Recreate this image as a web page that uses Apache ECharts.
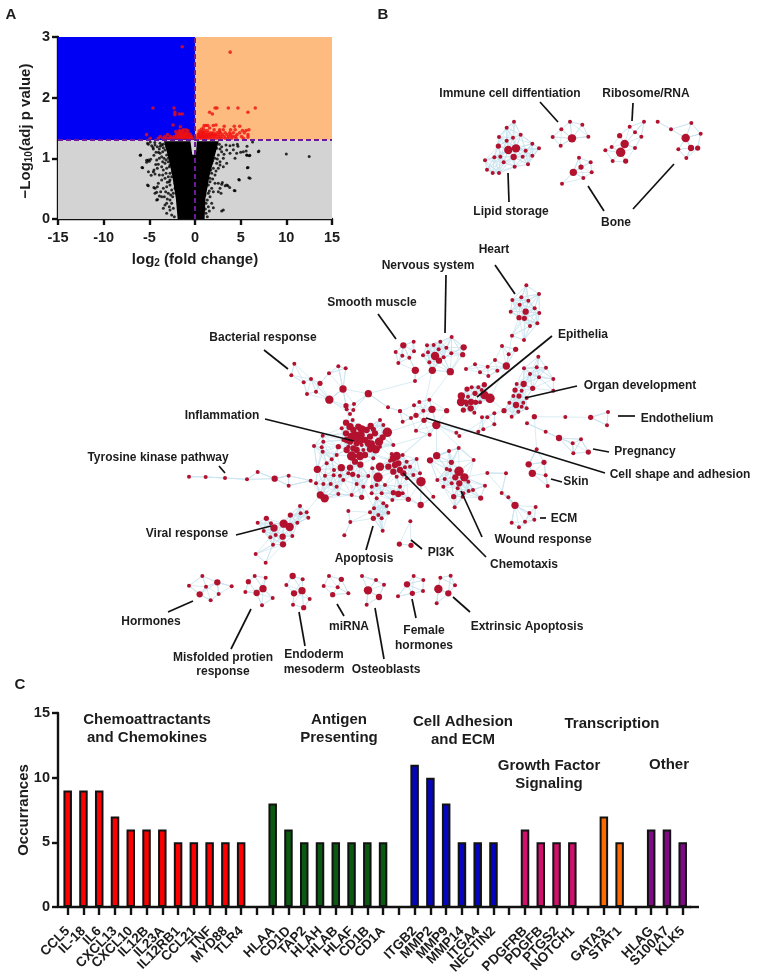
<!DOCTYPE html>
<html><head><meta charset="utf-8">
<style>html,body{margin:0;padding:0;background:#fff}#c{width:759px;height:977px}</style>
<script src="https://cdn.jsdelivr.net/npm/echarts@6/dist/echarts.min.js"></script></head>
<body><div id="c"></div>
<script>
// ---------- Panel A: volcano ----------
const redPoints=[[-1.4,2.84],[3.85,2.75],[-4.6,1.83],[-2.3,1.83],[2.2,1.83],[2.4,1.83],[3.65,1.83],[4.7,1.83],[6.6,1.83],[5.8,1.76],[1.6,1.76],[1.9,1.73],[-2.2,1.76],[-2.2,1.72],[-1.7,1.73],[-1.4,1.73],[-2.4,1.55],[-1.6,1.52],[1.0,1.54],[1.2,1.54],[1.4,1.54],[2.0,1.54],[2.3,1.55],[3.2,1.53],[4.3,1.53],[4.9,1.53],[0.7,1.48],[0.9,1.5],[1.6,1.5],[2.7,1.47],[2.1,1.47],[3.1,1.47],[3.9,1.47],[4.4,1.47],[5.2,1.46],[5.6,1.46],[5.9,1.47],[-1.0,1.47],[-1.3,1.47],[-1.7,1.46],[-2.1,1.44],[-0.8,1.46],
[-1.8,1.42],[-1.5,1.42],[-1.2,1.42],[-1.0,1.42],[-0.7,1.42],[0.5,1.42],[0.8,1.42],[1.1,1.42],[1.4,1.42],[1.7,1.42],[2.0,1.42],[2.4,1.42],[2.8,1.42],[3.3,1.42],[3.8,1.42],[4.2,1.42],[4.9,1.42],[5.4,1.42],
[-5.3,1.39],[-3.0,1.39],[-2.0,1.39],[-1.7,1.39],[-1.4,1.39],[-1.1,1.39],[-0.8,1.39],[-0.5,1.39],[0.4,1.39],[0.6,1.39],[0.9,1.39],[1.3,1.39],[1.6,1.39],[1.9,1.39],[2.2,1.39],[2.6,1.39],[3.0,1.39],[3.5,1.39],[3.9,1.39],[4.6,1.39],[5.8,1.39],
[-3.8,1.36],[-3.3,1.36],[-2.7,1.36],[-2.3,1.36],[-2.0,1.36],[-1.6,1.36],[-1.3,1.36],[-1.0,1.36],[-0.6,1.36],[-0.4,1.36],[0.3,1.36],[0.5,1.36],[0.8,1.36],[1.0,1.36],[1.2,1.36],[1.5,1.36],[1.8,1.36],[2.1,1.36],[2.5,1.36],[2.8,1.36],[3.2,1.36],[3.7,1.36],[4.1,1.36],[4.4,1.36],[5.1,1.36],[5.8,1.35],
[-4.9,1.33],[-4.0,1.33],[-3.5,1.33],[-3.1,1.33],[-2.8,1.33],[-2.5,1.33],[-2.2,1.33],[-1.9,1.33],[-1.5,1.33],[-1.2,1.33],[-0.9,1.33],[-0.6,1.33],[-0.3,1.33],[0.3,1.33],[0.6,1.33],[0.9,1.33],[1.1,1.33],[1.4,1.33],[1.7,1.33],[2.0,1.33],[2.3,1.33],[2.6,1.33],[2.9,1.33],[3.3,1.33],[3.6,1.33],[4.0,1.33],[4.5,1.33],[5.3,1.33],
[-1.65,1.44],[-1.35,1.45],[-1.15,1.37],[-0.85,1.35],[-1.55,1.4],[-1.25,1.38],[-0.95,1.4],[-1.75,1.35],[-0.5,1.34],[-1.45,1.35],[0.45,1.45],[0.75,1.44],[1.05,1.46],[1.35,1.46],[0.55,1.37],[0.65,1.34],[0.85,1.37],[1.15,1.38],[1.25,1.35],[1.55,1.38],[0.35,1.4],[0.95,1.43],[1.85,1.4],[2.25,1.38],[2.65,1.44]];
const denseCore=[[-1.9,0],[1.05,0],[1.15,0.34],[1.6,0.72],[2.1,1.0],[2.6,1.28],[0.2,1.28],[0.1,1.06],[-0.3,1.06],[-0.5,1.28],[-3.4,1.28],[-2.9,1.0],[-2.5,0.72],[-2.1,0.34]];
const blackPoints=[[10,1.07],[12.5,1.03],[7,1.12],[5.6,1.12],[6,1.05],[5.7,1.05],[5,1.1],[4.2,1.14],[4.7,1.2],[5.7,1.2],[6.3,1.27],[5.8,0.85],[4.8,0.65],[5.9,0.68],[4.3,0.47],[3.1,0.15],[3.3,0.55],[3.6,0.55],[3.8,0.52],[3.0,0.6],[-6,1.05],[-5.8,0.85],[-5.3,0.97],[-5.0,0.95],[-5.1,0.78],[-4.8,0.72],[-5.2,0.56],[-4.5,1.05],[-4.6,1.18],[-4,1.1],[-3.8,1.2],[-4.3,0.9],[-4.5,0.52],[-4.2,0.44],[-4.1,0.32],[-3.9,0.38],[-5.2,1.25],[-4.9,1.27],[-4.4,1.26]];
// further black points, read in a 3x crop of the plot (crop column, crop row)
const blackCropLeft=[[85,58],[95,62],[105,60],[112,65],[100,72],[118,72],[125,60],[130,68],[108,82],[120,85],[128,80],[135,75],[140,90],[125,95],[132,100],[85,105],[92,103],[80,112],[62,90],[68,128],[100,140],[105,147],[102,135],[115,118],[125,125],[135,115],[145,110],[130,135],[140,130],[148,125],[150,145],[145,155],[135,160],[150,165],[125,165],[115,175],[85,182],[105,190],[112,185],[122,200],[130,190],[140,185],[150,180],[155,195],[145,205],[133,215],[110,225],[105,205],[150,225],[140,235],[130,250],[148,245],[155,235],[150,255],[140,265],[160,250],[155,270],[163,275],[158,215],[160,205],[148,170],[155,155],[158,140],[150,120],[145,100],[140,65],[120,55],[160,120],[155,100],[165,175],[165,190],[130,58],[138,145],[128,150],[142,172],[137,200],[125,215],[142,222],[135,240],[152,210],[118,150],[112,130],[110,105],[118,100],[138,105],[128,110]];
const blackCropRight=[[275,60],[285,55],[298,58],[305,65],[318,60],[330,62],[340,60],[352,58],[370,80],[380,90],[388,92],[415,80],[345,100],[350,85],[330,85],[320,75],[305,80],[295,90],[285,100],[310,100],[300,110],[290,115],[320,115],[310,125],[295,130],[280,130],[275,145],[285,150],[270,160],[382,128],[390,160],[358,165],[345,197],[320,180],[305,178],[295,175],[285,175],[300,190],[303,205],[295,200],[275,190],[280,200],[265,205],[270,215],[262,225],[275,235],[265,245],[280,248],[305,258],[268,258],[258,265],[262,275],[270,170],[265,180],[275,115],[280,85],[290,70],[272,75],[268,95],[265,120],[262,140],[260,160],[258,185],[255,210],[312,88],[300,72],[282,72],[292,102],[278,108],[288,138],[300,120],[272,135],[278,162],[268,198],[258,235],[256,252]];
const volcanoXTicks=[-15,-10,-5,0,5,10,15];
const pThreshold=1.3, fcThreshold=0;

// ---------- Panel C: bars ----------
const geneCategories=['CCL5','IL-18','IL6','CXCL13','CXCL10','IL12B','IL23A','IL12RB1','CCL21','TNF','MYD88','TLR4',' ','HLAA','CD1D','TAP2','HLAH','HLAB','HLAF','CD1B','CD1A','  ','ITGB2','MMP2','MMP9','MMP14','ITGA4','NECTIN2','   ','PDGFRB','PDGFB','PTGS2','NOTCH1','    ','GATA3','STAT1','     ','HLAG','S100A7','KLK5'];
const occurrences=[9,9,9,7,6,6,6,5,5,5,5,5,null,8,6,5,5,5,5,5,5,null,11,10,8,5,5,5,null,6,5,5,5,null,7,5,null,6,6,5];
const groupColors=['#ff0000','#0b5a12','#0505c0','#d0106c','#ff6a00','#800a85'];
const groupOfBar=[0,0,0,0,0,0,0,0,0,0,0,0,0,1,1,1,1,1,1,1,1,1,2,2,2,2,2,2,2,3,3,3,3,3,4,4,4,5,5,5];

const lipid=[[432,365],[410,383],[387,411],[410,422],[429,413],[452,404],[385,438,2.5],[415,450,4],[438,445,4],[467,452],[487,431],[507,445],[487,467],[458,470],[431,471,3],[391,470],[373,472],[345,481],[401,487],[434,500],[474,493],[351,509],[368,519],[387,519]];
const immuneDiff=[[600,365],[637,374],[574,388],[548,411],[606,415,4],[655,410],[572,437]];
const boneA=[[627,473],[662,487],[633,501,2.5],[610,517,3.5],[665,517],[640,534],[576,551]];
const ribosome=[[822,365],[779,380],[795,397],[814,410],[749,407,2.5],[764,432,4],[725,441],[706,451],[752,457,4.5],[795,444],[728,483],[767,483,2.5]];
const boneB=[[964,369],[992,401],[947,414,4],[925,448],[963,444,3],[983,444,2.5],[949,474],[863,365],[903,388]];
const heart=[[439,46],[477,72],[424,82],[445,92],[397,90],[419,104],[464,115],[437,125,3],[392,125],[478,129],[417,143,2.5],[433,145,2.5],[472,160],[450,168],[396,197],[432,210]];
const upperMid=[[366,228],[407,238,2.5],[386,253],[345,270],[379,288,3.5],[285,283],[323,290],[300,307],[352,302],[258,297],[325,318]];
const nervous=[[215,201],[181,215],[161,225],[141,226],[176,238],[199,233],[144,247],[129,256],[165,258,4],[214,250],[191,262],[177,272,3],[148,277],[251,232,3],[248,254,2.5],[157,301,3.5],[211,305,3.5]];
const smoothMuscle=[[101,215],[70,226,3],[47,246],[102,244],[67,257],[88,263],[55,279],[106,301,3.5],[105,333]];
const epithelia=[[261,357,2.5],[275,352],[295,352],[313,344,2.5],[244,378,3.5],[264,380],[285,370,2.5],[313,375,4],[330,385,4.5],[243,396,4],[257,396,2.5],[273,396,3],[287,397,2.5],[300,397],[272,415,3],[250,420,2.5],[283,428],[260,404],[305,360]];
const organDev=[[475,260],[432,295],[470,292],[498,293],[450,312],[477,322],[520,327],[431,342,3],[410,342],[405,360,2.5],[458,355,2.5],[520,362],[425,362],[417,378,2.5],[400,378],[440,384],[430,398],[408,405,3],[425,410],[388,398],[372,422,2.5],[415,425],[440,415],[395,440]];
const epitheliaLow=[[306,442],[322,442],[343,430],[343,463],[310,478],[295,485]];
const endothelium=[[463,440,2.5],[556,441],[632,442,2.5],[684,426],[681,466]];
const pregnancy=[[441,460],[497,485],[537,504,3],[578,520],[603,508],[580,550],[625,546,2.5]];
const skin=[[470,538],[446,583,3],[492,577,2.5],[457,610,3.5],[497,616],[503,648]];
const ecm=[[322,609],[378,610],[365,669],[385,682],[405,706,3.5],[448,729],[467,711],[463,749],[435,755],[395,758],[417,772]];
const wound=[[207,543],[236,534],[281,570],[170,557,3.5],[150,571,3],[214,577,2.5],[200,597],[237,604,4.5],[253,622,4],[226,622,3],[172,630],[194,627],[215,640],[238,640,3],[265,635],[279,660],[190,650],[233,655],[250,670],[221,680,2.5],[248,680],[302,684,2.5],[315,647],[224,712],[266,663],[210,600]];
const cellShape=[[148,389],[118,396],[102,406],[156,418,3.5],[200,422,2.5],[60,424],[130,422],[93,444],[108,436,2.5],[132,451,2.5],[68,455],[169,465,4],[108,482],[149,494],[229,488],[238,498]];
const bacterial=[[343,101],[334,136],[393,147],[371,157],[420,160,2.5],[447,130],[475,109],[497,115],[408,185],[381,192],[489,177,3.5],[448,209,4],[565,191,3.5],[498,227,2.5],[522,222],[500,238],[520,240],[510,252],[660,243],[624,232]];
const inflammation=[[498,278,3],[518,270],[572,288,3],[600,270],[610,285],[545,298,4],[498,310,3],[520,300,3],[530,320,5],[545,315,3],[555,330,3],[622,307,4.5],[585,310,3],[597,335,4],[570,320,3],[490,330],[510,335,3],[530,340,3],[545,345],[475,350,2.5],[500,360,3],[515,378,4.5],[540,378,4],[587,358,4],[570,358,3],[550,360],[600,350],[640,345],[520,355,3],[575,340,3],[505,350],[510,290,3.5],[535,290,3],[560,300,3],[515,320,4],[500,330,3],[540,330,4],[565,340,3.5],[575,350,4],[555,375,3],[525,395,3],[580,298,2.5],[608,322,3],[485,295],[530,360,3],[430,335],[428,317],[402,348],[425,352],[428,365],[470,375],[455,388],[440,400],[484,413,3.5],[510,413,3],[541,404,3],[412,418,3.5],[462,420],[435,437],[461,436],[480,437],[505,430],[518,433,2.5],[535,438],[565,438],[580,385],[408,460],[430,462],[452,462],[490,450],[530,462],[550,470],[475,492],[470,470],[515,495],[421,495,3.5],[434,505,4],[545,502,2.5]];
const chemotaxis=[[600,410,4],[594,442,4.5],[577,415],[650,378,4],[640,385,3.5],[630,392],[625,410,3],[655,400,3],[660,420,3],[680,395],[710,387],[690,410],[670,430,3],[640,425,3],[650,440],[680,445],[723,455,4.5],[700,435],[720,430],[645,405,3],[635,372],[668,375],[675,412],[575,470],[590,465],[615,465],[660,470],[640,488,2.5],[655,492,3],[668,490],[605,490],[575,490],[685,508,2.5],[722,525,3],[760,500],[637,510]];
const apoptosis=[[590,505],[610,520],[570,547],[582,535],[620,528],[625,548],[595,555],[580,565,2.5],[605,565],[608,602],[505,543],[511,576],[493,616]];
const pi3k=[[691,574],[658,642,2.5],[693,646,2.5]];
const tyrosine=[[27,440],[77,441],[135,444],[201,448],[233,426],[284,446,3],[326,437],[326,467],[392,452]];
const viral=[[360,528],[380,547],[362,550],[385,563],[331,555,2.5],[259,565,2.5],[233,578],[352,578],[311,581,4],[329,591,4],[273,580],[282,594,3.5],[251,603],[271,622],[287,615],[308,620,3],[337,618],[309,643,3],[279,644],[227,672],[257,698]];
const hormones=[[97,48],[57,77],[108,80],[142,67,3],[185,79],[89,103,3],[146,102],[122,121]];
const misfolded=[[254,48],[287,53],[235,65,2.5],[279,86,3.5],[226,96],[260,99,3],[308,114],[276,136]];
const endoderm=[[368,48,3],[398,58],[349,75],[396,92,3.5],[372,100,3],[419,117],[369,134],[401,143,2.5]];
const mirna=[[477,48],[514,58,2.5],[461,78],[503,82],[488,104,2.5],[535,100]];
const osteoblasts=[[576,48],[618,60],[642,74],[594,91,4],[627,111,3],[590,134]];
const femaleHormones=[[731,48],[760,60],[711,73,3],[759,93],[684,109],[727,100,2.5]];
const extrinsicApoptosis=[[842,47],[811,53],[855,76],[805,87,4],[835,100,3],[800,130]];
const clustersTop=[lipid,immuneDiff,boneA,ribosome,boneB];
const clustersRight=[heart,upperMid,nervous,smoothMuscle,epithelia,organDev,epitheliaLow,endothelium,pregnancy,skin,ecm,wound,cellShape];
const clustersCentre=[bacterial,inflammation,chemotaxis,apoptosis,pi3k,tyrosine,viral];
const clustersBottom=[hormones,misfolded,endoderm,mirna,osteoblasts,femaleHormones,extrinsicApoptosis];
const denseClusters=[lipid,nervous,epithelia,organDev,wound,inflammation,chemotaxis,apoptosis,heart,viral];
// long links between clusters, as node-to-node pairs of page positions
const bridges=[[343,389,347,427],[368,394,415,381],[432,370,415,381],[432,370,426,415],[420,420,387,430],[383,450,400,460],[353,450,400,460],[320,495,297,523],[320,495,345,470],[322,498,352,480],[490,400,504,410],[534,417,565,417],[565,417,591,417],[591,417,608,412],[591,417,607,425],[534,417,527,423],[527,423,545,432],[545,432,559,438],[559,438,573,443],[559,438,581,439],[573,443,573,453],[581,439,588,452],[534,417,537,450],[537,450,529,464],[529,464,532,475],[464,477,487,473],[487,473,506,473],[487,473,515,505],[515,505,502,493],[515,505,529,513],[189,477,206,477],[206,477,225,478],[225,478,247,479],[247,479,258,472],[247,479,275,479],[275,479,289,476],[275,479,289,486],[289,486,311,481],[311,481,320,495],[512,336,506,366],[506,366,490,395],[410,521,399,544],[410,521,411,545],[384,465,378,505],[343,389,329,400],[329,400,313,373],[343,389,338,366],[436,425,436,455],[436,425,480,445],[436,425,390,470],[494,416,470,440],[494,416,504,410],[425,430,390,440],[445,375,436,390],[436,425,470,460],[410,455,436,425],[363,450,410,470],[350,470,380,505],[365,490,378,505],[395,490,412,505]];
const edgeColor='#c6e3ef';
const nodeColor='#b3122f';

// ---------- Annotations ----------
const panelLetters=[['A',11,15],['B',383,15],['C',20,685]];
const networkLabels=[['Immune cell diffentiation',510,94],['Ribosome/RNA',646,94],['Lipid storage',511,212],['Bone',616,223],['Heart',494,250],['Nervous system',428,266],['Smooth muscle',372,303],['Bacterial response',263,338],['Epithelia',583,335],['Organ development',640,386],['Endothelium',677,419],['Pregnancy',645,452],['Cell shape and adhesion',680,475],['Inflammation',222,416],['Tyrosine kinase pathway',158,458],['Skin',576,482],['ECM',564,519],['Wound response',543,540],['Chemotaxis',524,565],['PI3K',441,553],['Apoptosis',364,559],['Viral response',187,534],['Hormones',151,622],['Misfolded protien',223,658],['response',223,672],['Endoderm',314,655],['mesoderm',314,670],['miRNA',349,627],['Osteoblasts',386,670],['Female',424,631],['hormones',424,646],['Extrinsic Apoptosis',527,627]];
const leaderLines=[[540,102,558,122],[633,103,632,121],[508,173,509,202],[588,186,604,211],[633,209,674,164],[264,350,288,369],[265,419,354,441],[219,466,225,473],[236,535,271,526],[373,526,366,550],[411,540,422,549],[403,473,486,557],[378,314,396,339],[446,275,445,333],[495,265,515,294],[552,336,477,397],[577,386,525,398],[618,416,635,416],[593,449,609,452],[426,418,605,473],[551,479,562,482],[540,518,546,518],[461,491,482,537],[193,601,168,612],[251,609,231,649],[299,612,305,646],[337,604,344,616],[375,608,384,659],[412,599,416,618],[453,597,470,612]];
const groupTitles=[['Chemoattractants',147,720],['and Chemokines',147,738],['Antigen',339,720],['Presenting',339,738],['Cell Adhesion',463,722],['and ECM',463,740],['Growth Factor',549,766],['Signaling',549,784],['Transcription',612,724],['Other',669,765]];

// ---------- Build ----------
const FONT='"Liberation Sans",Arial,sans-serif';
const INK='#1c1c1c';
const cropToData=p=>[(120+p[0]/3-195)/274*30,(219-(125+p[1]/3))/182*3];
const allBlack=blackPoints.concat(blackCropLeft.map(cropToData),blackCropRight.map(cropToData));
const nodes=[], links=[];
function addCluster(list,ox,oy){
  const start=nodes.length;
  const k=denseClusters.includes(list)?8:3;
  const pts=list.map(n=>({x:ox+n[0]/3,y:oy+n[1]/3,r:n[2]?n[2]*1.05:2}));
  pts.forEach(p=>nodes.push(p));
  pts.forEach((p,i)=>{
    const order=pts.map((q,j)=>[Math.hypot(q.x-p.x,q.y-p.y),j]).filter(d=>d[1]!==i).sort((a,b)=>a[0]-b[0]);
    order.slice(0,k).forEach(d=>{ if(d[0]<24) links.push([start+i,start+d[1]]); });
    const hub=order.find(d=>pts[d[1]].r>=3);
    if(hub&&hub[0]<30) links.push([start+i,start+hub[1]]);
  });
}
clustersTop.forEach(c=>addCluster(c,370,0));
clustersRight.forEach(c=>addCluster(c,380,270));
clustersCentre.forEach(c=>addCluster(c,180,330));
clustersBottom.forEach(c=>addCluster(c,170,560));
function nearest(x,y){let b=0,bd=1e9;nodes.forEach((n,i)=>{const d=Math.hypot(n.x-x,n.y-y);if(d<bd){bd=d;b=i;}});return b;}
bridges.forEach(b=>links.push([nearest(b[0],b[1]),nearest(b[2],b[3])]));

const textEls=(arr,size,extra)=>arr.map(t=>({type:'text',x:t[1],y:t[2],z:50,silent:true,style:Object.assign({text:t[0],font:'bold '+size+'px '+FONT,fill:INK,textAlign:'center',textVerticalAlign:'middle'},extra||{})}));
const axisText={fontFamily:FONT,fontWeight:'bold',color:INK};
const axisLine={show:true,onZero:false,lineStyle:{color:'#111',width:2.4}};
const axisTick={show:true,length:6,lineStyle:{color:'#111',width:2.4}};

const option={
  animation:false,backgroundColor:'#fff',
  grid:[
    {left:58,top:37,width:274,height:182},
    {left:59.8,top:713,width:630.8,height:194},
    {left:0,top:0,width:759,height:977}
  ],
  xAxis:[
    {gridIndex:0,type:'value',min:-15,max:15,interval:5,splitLine:{show:false},axisLine,axisTick,
     axisLabel:Object.assign({fontSize:14.5,margin:11,formatter:v=>volcanoXTicks.includes(v)?String(v):''},axisText),
     name:'{a|log}{b|2}{a| (fold change)}',nameLocation:'middle',nameGap:33,
     nameTextStyle:{rich:{a:Object.assign({fontSize:15},axisText),b:Object.assign({fontSize:10,verticalAlign:'bottom',padding:[6,0,0,0]},axisText)}}},
    {gridIndex:1,type:'category',data:geneCategories,axisLine,
     axisTick:{show:true,alignWithLabel:true,length:8,lineStyle:{color:'#111',width:2.4},interval:0},
     axisLabel:Object.assign({fontSize:13.5,rotate:45,margin:22,interval:0},axisText)},
    {gridIndex:2,type:'value',min:0,max:759,show:false,splitLine:{show:false}}
  ],
  yAxis:[
    {gridIndex:0,type:'value',min:0,max:3,interval:1,splitLine:{show:false},axisLine,axisTick,
     axisLabel:Object.assign({fontSize:14.5,margin:8},axisText)},
    {gridIndex:1,type:'value',min:0,max:15,interval:5,splitLine:{show:false},axisLine,axisTick,
     axisLabel:Object.assign({fontSize:14.5,margin:8},axisText),
     offset:1.8,
     name:'Occurrances',nameLocation:'middle',nameGap:27,nameMoveOverlap:false,nameTextStyle:Object.assign({fontSize:15},axisText)},
    {gridIndex:2,type:'value',min:0,max:977,inverse:true,show:false,splitLine:{show:false}}
  ],
  series:[
    {type:'scatter',xAxisIndex:0,yAxisIndex:0,data:[],z:1,silent:true,
     markArea:{silent:true,itemStyle:{opacity:1},data:[
       [{coord:[-15,3],itemStyle:{color:'#0000f5'}},{coord:[fcThreshold,pThreshold]}],
       [{coord:[fcThreshold,3],itemStyle:{color:'#fdbb80'}},{coord:[15,pThreshold]}],
       [{coord:[-15,pThreshold],itemStyle:{color:'#d3d3d3'}},{coord:[15,0]}]
     ]}},
    {type:'custom',xAxisIndex:0,yAxisIndex:0,z:2,silent:true,data:[0],clip:true,
     renderItem:(p,api)=>({type:'polygon',shape:{points:denseCore.map(d=>api.coord(d))},style:{fill:'#000'}})},
    {type:'scatter',name:'ns',xAxisIndex:0,yAxisIndex:0,z:3,silent:true,symbolSize:3,itemStyle:{color:'#000'},data:allBlack},
    {type:'scatter',name:'sig',xAxisIndex:0,yAxisIndex:0,z:4,silent:true,symbolSize:3.6,itemStyle:{color:'#f01010'},data:redPoints},
    {type:'line',xAxisIndex:0,yAxisIndex:0,z:5,silent:true,symbol:'none',data:[],
     markLine:{silent:true,symbol:'none',label:{show:false},lineStyle:{color:'#6a1a9a',type:[5,3],width:2},
       data:[[{coord:[-15,pThreshold]},{coord:[15,pThreshold]}],[{coord:[fcThreshold,0]},{coord:[fcThreshold,3]}]]}},
    {type:'bar',xAxisIndex:1,yAxisIndex:1,barWidth:8.5,z:3,silent:true,
     data:occurrences.map((v,i)=>({value:v,itemStyle:{color:groupColors[groupOfBar[i]],borderColor:'#111',borderWidth:2}}))},
    {type:'graph',coordinateSystem:'cartesian2d',xAxisIndex:2,yAxisIndex:2,layout:'none',silent:true,z:3,
     data:nodes.map(n=>({value:[n.x,n.y],symbolSize:n.r*2,itemStyle:{color:nodeColor}})),
     links:links.map(l=>({source:l[0],target:l[1]})),
     lineStyle:{color:edgeColor,width:0.8,opacity:0.85,curveness:0},label:{show:false}},
    {type:'lines',coordinateSystem:'cartesian2d',xAxisIndex:2,yAxisIndex:2,z:6,silent:true,
     lineStyle:{color:'#111',width:1.7,opacity:1},
     data:leaderLines.map(l=>({coords:[[l[0],l[1]],[l[2],l[3]]]}))}
  ],
  graphic:[
    {type:'rect',z:40,silent:true,shape:{x:690,y:905.8,width:9,height:2.4},style:{fill:'#111'}},
    {type:'text',x:26,y:131,rotation:Math.PI/2,z:50,silent:true,style:{
      text:'{a|\u2212Log}{b|10}{a|(adj p value)}',align:'center',verticalAlign:'middle',
      rich:{a:{font:'bold 15px '+FONT,fill:INK},b:{font:'bold 10px '+FONT,fill:INK,verticalAlign:'bottom',padding:[6,0,0,0]}}}},
    ...textEls(panelLetters,15),
    ...textEls(networkLabels,12),
    ...textEls(groupTitles,15)
  ]
};
const chart=echarts.init(document.getElementById('c'),null,{renderer:'canvas'});
chart.setOption(option);
</script></body></html>
